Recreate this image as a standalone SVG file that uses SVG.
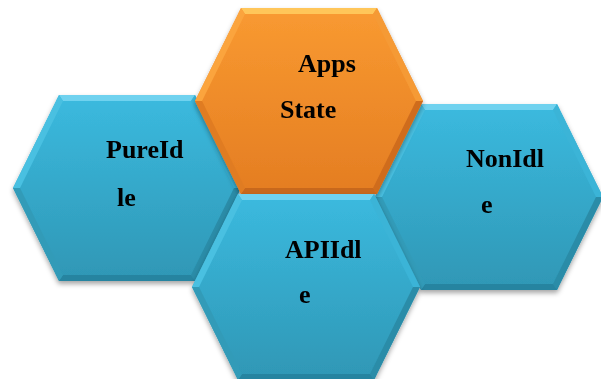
<svg xmlns="http://www.w3.org/2000/svg" width="601" height="379" viewBox="0 0 601 379">
<style>
.lbl{font-family:"Liberation Serif","Times New Roman",serif;font-weight:bold;font-size:26px;fill:#000}
</style>
<defs>
<linearGradient id="gc" x1="0" y1="0" x2="0" y2="1">
<stop offset="0" stop-color="#3BBADF"/><stop offset="1" stop-color="#2F97B5"/>
</linearGradient>
<linearGradient id="go" x1="0" y1="0" x2="0" y2="1">
<stop offset="0" stop-color="#F99A31"/><stop offset="1" stop-color="#E47D22"/>
</linearGradient>
<filter id="sh" x="-10%" y="-10%" width="120%" height="125%">
<feDropShadow dx="0" dy="3" stdDeviation="2.5" flood-color="#000" flood-opacity="0.35"/>
</filter>
<g id="hexc">
<polygon points="46,0 182,0 228,93 182,186 46,186 0,93" fill="url(#gc)"/>
<polygon points="46,0 182,0 178,6 50,6" fill="#6FD2EF"/>
<polygon points="182,0 228,93 221,93 178,6" fill="#3BB4D7"/>
<polygon points="228,93 182,186 178,180 221,93" fill="#2A8CA8"/>
<polygon points="182,186 46,186 50,180 178,180" fill="#2784A0"/>
<polygon points="46,186 0,93 7,93 50,180" fill="#319BB8"/>
<polygon points="0,93 46,0 50,6 7,93" fill="#49C0E1"/>
</g>
<g id="hexo">
<polygon points="46,0 182,0 228,93 182,186 46,186 0,93" fill="url(#go)"/>
<polygon points="46,0 182,0 178,6 50,6" fill="#FFC65A"/>
<polygon points="182,0 228,93 221,93 178,6" fill="#F59A36"/>
<polygon points="228,93 182,186 178,180 221,93" fill="#CF6C1D"/>
<polygon points="182,186 46,186 50,180 178,180" fill="#C8671C"/>
<polygon points="46,186 0,93 7,93 50,180" fill="#E07B22"/>
<polygon points="0,93 46,0 50,6 7,93" fill="#FBA43E"/>
</g>
</defs>
<g id="connectors"/>
<g id="node-pureidle" filter="url(#sh)">
<use href="#hexc" transform="translate(13,95)"/>
<text class="lbl" x="106" y="158">PureId</text>
<text class="lbl" x="117" y="206">le</text>
</g>
<g id="node-nonidle" filter="url(#sh)">
<use href="#hexc" transform="translate(375,104)"/>
<text class="lbl" x="466" y="167">NonIdl</text>
<text class="lbl" x="481" y="213">e</text>
</g>
<g id="node-appsstate" filter="url(#sh)">
<use href="#hexo" transform="translate(195,8)"/>
<text class="lbl" x="298" y="72">Apps</text>
<text class="lbl" x="280" y="118">State</text>
</g>
<g id="node-apiidle" filter="url(#sh)">
<use href="#hexc" transform="translate(192,194)"/>
<text class="lbl" x="285" y="258">APIIdl</text>
<text class="lbl" x="299" y="303">e</text>
</g>
</svg>
